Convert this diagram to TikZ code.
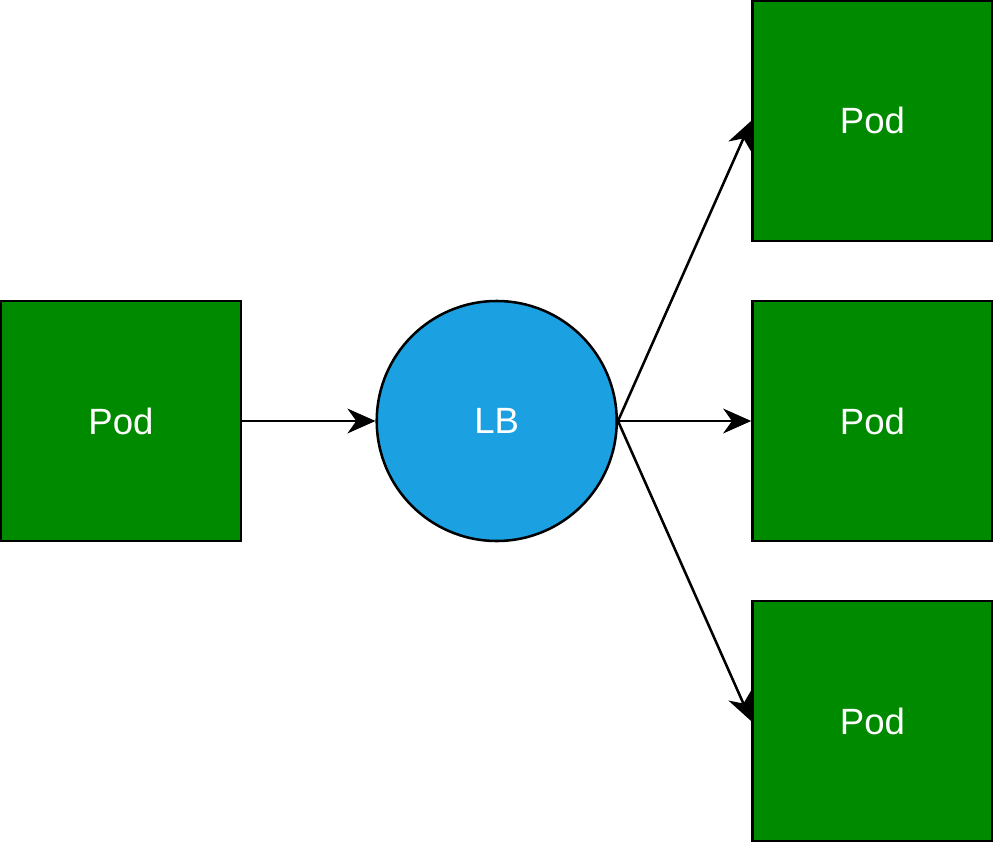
\documentclass[tikz,border=0pt]{standalone}
\usepackage{fontspec}
\setmainfont{Liberation Sans}
\usetikzlibrary{arrows.meta, positioning}

\definecolor{podgreen}{HTML}{008A00}
\definecolor{lbblue}{HTML}{1BA1E2}

\begin{document}
\begin{tikzpicture}[
    font=\fontsize{26}{31}\selectfont,
    pod/.style={draw, line width=1.8pt, fill=podgreen, text=white,
                minimum size=6cm, inner sep=0pt},
    lb/.style={draw, circle, line width=1.8pt, fill=lbblue, text=white,
               minimum size=6cm, inner sep=0pt},
    arr/.style={-{Stealth[length=0.7cm, width=0.62cm, inset=0.22cm]}, line width=1.8pt},
]
    \useasboundingbox (0,0) rectangle (24.825,-21.075);

    %==================== SOURCE ====================
    \node[pod] (src) at (3.025,-10.525) {Pod};

    %==================== LOAD BALANCER ====================
    \node[lb, right=3.33cm of src] (lb) {LB};
    \draw[arr] (src.east) -- (lb.west);

    %==================== TARGET PODS ====================
    \node[pod, right=3.33cm of lb] (pmid) {Pod};
    \node[pod, above=1.44cm of pmid] (ptop) {Pod};
    \node[pod, below=1.44cm of pmid] (pbot) {Pod};

    \draw[arr] (lb.east) -- (ptop.west);
    \draw[arr] (lb.east) -- (pmid.west);
    \draw[arr] (lb.east) -- (pbot.west);

\end{tikzpicture}
\end{document}
